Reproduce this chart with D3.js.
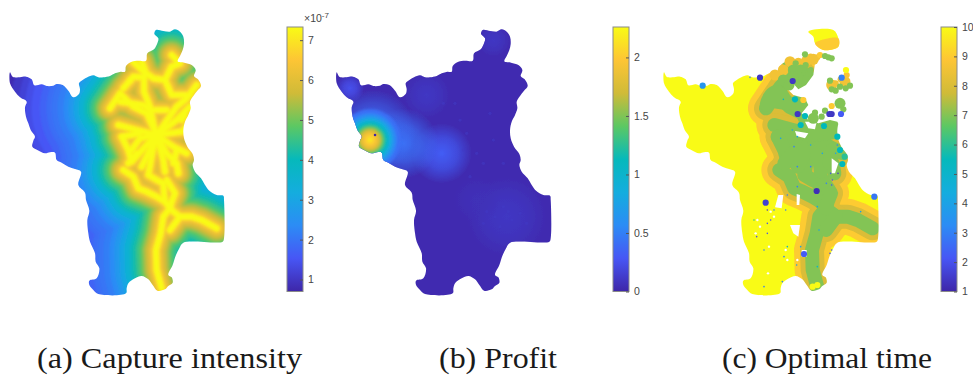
<!DOCTYPE html>
<html>
<head>
<meta charset="utf-8">
<script src="https://cdn.jsdelivr.net/npm/d3@7"></script>
<style>
  html, body { margin: 0; background: #fff; }
  svg { display: block; }
  .cbar text { font-family: "Liberation Sans", Arial, sans-serif; font-size: 10.5px; fill: #454545; }
  .caption { font-family: "Liberation Serif", serif; font-size: 29px; fill: #1a1a1a; }
</style>
</head>
<body>
<script>
// parula colormap stops
const parulaStops = ['#3e26a8', '#4756f5', '#2c8cf5', '#14adde', '#06b9bb', '#5cc863', '#d0bb38', '#fdc535', '#f9fb15'];

// map traced in map units (1 unit = 1/3 pixel)
const outline = [[30,157],[38,170],[60,172],[78,170],[95,178],[103,196],[125,193],[140,198],[160,197],[170,192],[188,195],[205,212],[220,232],[237,222],[240,208],[237,190],[248,180],[262,172],[280,166],[295,172],[310,172],[330,168],[345,160],[362,155],[375,155],[378,138],[395,125],[415,122],[438,122],[442,100],[462,88],[472,70],[475,55],[463,42],[468,30],[490,33],[510,35],[525,28],[540,35],[550,50],[552,72],[548,90],[540,108],[533,124],[553,128],[575,135],[587,150],[582,168],[594,178],[603,198],[592,212],[580,228],[570,245],[572,265],[565,285],[555,305],[550,330],[552,355],[562,380],[578,402],[582,420],[578,435],[585,455],[603,475],[615,495],[628,512],[650,525],[670,527],[672,540],[672,655],[668,665],[550,668],[538,685],[528,705],[518,735],[505,765],[515,772],[518,788],[505,798],[495,808],[472,812],[458,795],[445,778],[425,768],[405,775],[385,790],[380,805],[378,820],[295,822],[280,810],[268,795],[268,782],[290,775],[298,745],[287,725],[285,700],[270,665],[265,640],[262,600],[268,572],[258,540],[255,518],[235,495],[243,455],[225,447],[205,440],[185,428],[170,420],[165,398],[150,397],[135,400],[112,390],[97,380],[100,362],[105,350],[92,330],[85,310],[78,290],[75,262],[80,245],[60,232],[45,215],[30,190]];

const rivers = [
  [[470,345],[460,385],[452,425],[445,465],[470,480],[490,490],[492,520],[495,545],[510,565],[490,590],[482,640],[468,690],[470,750],[485,805]],
  [[495,545],[520,575],[540,590],[575,590],[605,600],[650,625]],
  [[540,590],[510,630]],
  [[370,450],[400,470],[415,505],[440,515],[470,530],[495,545]],
  [[500,480],[525,520],[515,545],[510,565]],
  [[425,125],[435,150],[432,185],[432,215],[450,260],[462,320],[470,345]],
  [[400,125],[425,150],[460,175],[495,180],[515,140],[540,130],[515,105]],
  [[495,180],[515,225],[570,225]],
  [[590,195],[560,235],[530,260],[505,295],[470,345]],
  [[330,265],[360,220],[400,260],[440,280],[470,345]],
  [[360,245],[430,255],[450,270],[500,270]],
  [[370,205],[400,170],[430,172]],
  [[355,315],[410,330],[470,345]],
  [[365,350],[420,340]],
  [[395,390],[420,355],[470,345]],
  [[365,350],[385,390],[395,425],[440,375],[470,345]],
  [[385,430],[410,400]],
  [[470,345],[440,410],[425,440]],
  [[470,345],[500,400],[530,430],[535,460]],
  [[470,345],[490,420],[495,455]],
  [[470,345],[520,380],[560,400]],
  [[530,390],[520,430]],
  [[470,345],[545,335],[560,320]],
  [[470,345],[530,300],[570,260]],
  [[545,300],[555,285]],
  [[390,180],[391,182]]
];

// capture intensity falling away from the river network
const intensityBase = 0.75;
const intensityDist = [330,300,275,255,235,210,190,175,158,140,125,110,95,80,70,60,50,42,36,30,24,18,13,10,7];
const intensityVals = [0.8,1.0,1.2,1.38,1.55,1.75,1.9,2.0,2.15,2.35,2.65,3.0,3.45,3.9,4.2,4.5,4.8,5.15,5.45,5.7,6.0,6.3,6.7,7.05,7.33];

// profit: wide faint plumes (x, y, reach, value), hot core rings and faint mottling
const profitBase = 0.03;
const profitPlumes = [
  [500,60,50,0.1],[300,225,70,0.1],[540,590,120,0.1],[450,540,70,0.06],[70,205,42,0.25],
  [345,400,90,0.32],[230,370,105,0.42],[140,335,125,0.42]
];
const profitCore = [
  [130,360,92,0.42],[130,360,80,0.55],[130,360,71,0.7],[130,360,64,0.85],[130,360,57,1.0],[130,360,51,1.15],
  [130,360,45,1.3],[130,360,40,1.45],[130,360,35,1.6],[130,360,31,1.75],[130,360,26,1.85],[130,360,20,1.95],[130,360,14,2.05],[130,360,7,2.15]
];
const profitSpecks = [[480,575],[505,590],[530,560],[555,600],[580,580],[600,610],[470,610],[520,620],[545,575],[430,470],[400,300],[420,340],[385,250],[450,400],[470,430],[500,360],[530,430],[350,250],[410,390],[490,280]];

// optimal time bands around the network
const timeBase = 10;
const timeDist = [54,36,21];
const timeVals = [9,8,7];

const timeHoles = [
  [[396,192],[416,188],[433,208],[456,195],[478,165],[483,130],[448,125],[423,115],[398,118],[398,-20],[708,-20],[708,330],[563,330],[550,305],[528,300],[493,310],[463,300],[443,280],[463,255],[453,235],[418,225],[403,210]],
  [[453,305],[488,305],[483,328],[463,325]],
  [[423,333],[463,340],[453,355],[428,348]],
  [[533,415],[553,430],[543,460],[533,460]],
  [[373,525],[388,525],[383,565],[363,562]],
  [[428,522],[438,525],[436,555],[428,555]],
  [[408,615],[438,615],[433,650],[418,640]],
  [[443,690],[458,690],[458,710],[443,710]]
];
const timeIsland = [[463,35],[538,30],[553,55],[553,80],[508,90],[483,70],[478,50]];
const timeIslandBand = [[483,70],[503,60],[553,55],[553,80],[508,90]];
const timeGreen = [[333,215],[363,195],[393,205],[408,225],[418,240],[423,265],[398,270],[363,262],[338,275],[318,260]];

// x, y, value of the scattered cells
const bigCells = [[388,150,8.6],[363,165,8.6],[408,125,8.6],[433,130,8.6],[458,122,8.6],[478,118,8.6],[533,195,8.6],[573,185,8.6],[388,180,7],[418,150,7],[418,170,7],[405,195,7],[440,150,7],[558,250,7],[478,295,7]];
const midCells = [[470,110,8.6],[490,112,8.6],[498,105,9],[560,178,8.6],[545,190,8.6],[578,165,8.8],[576,150,10],[533,258,9],[448,240,9],[453,103,7],[523,112,7],[533,115,7],[513,108,7],[433,190,7],[440,165,7],[453,160,7],[463,165,7],[455,175,7],[470,150,7],[455,135,7],[425,130,7],[528,182,7],[558,200,7],[575,205,7],[545,212,7],[588,197,7],[533,208,7],[513,272,7],[568,268,7],[483,278,7],[503,290,7],[453,288,5.5],[440,315,5.5],[423,238,5.5],[533,282,1.4],[526,282,1.4],[561,282,2.2],[431,282,1.4],[416,183,1.4],[318,173,1.4],[563,173,3],[146,197,3.6],[661,530,2.8],[335,548,1.6],[488,513,1.2],[450,702,2.2],[510,318,5.5],[550,350,5.5],[565,432,5.5],[558,390,5.5],[572,410,6],[476,800,10],[490,795,10]];
const smallCells = [[288,172,3],[388,238,5.5],[430,350,4],[470,375,4],[420,380,3],[550,375,3],[545,400,4],[530,460,2],[552,460,1.5],[535,480,2],[533,495,2],[490,560,4],[400,525,3],[340,610,2],[340,640,2],[308,650,2],[395,570,3],[360,570,3],[350,600,2],[400,680,5],[440,680,4],[330,690,3],[390,710,3],[330,800,3],[385,785,3],[428,735,4],[490,740,5],[495,630,4],[620,575,4],[517,490,3],[430,440,3],[470,440,3],[505,400,4],[415,330,4],[380,355,4],[430,500,3],[528,700,2],[533,690,2],[300,600,6],[340,570,1.5]];
const timeSlits = [[310,600],[318,620],[350,575],[305,640],[345,680],[400,720],[430,720],[360,590],[395,690],[342,760]];

// colorbars
const barDomains = [[0.7,7.33],[0,2.26],[1,10]];
const barTicks = [[1,2,3,4,5,6,7],[0,0.5,1,1.5,2],[1,2,3,4,5,6,7,8,9,10]];
const barLeft = [287,613,941];
const mapLeft = [0,326.7,654];
const captions = ['(a) Capture intensity','(b) Profit','(c) Optimal time'];
const captionLeft = [37,439,722];
const captionWidth = [265,118,210];

const W = 973, H = 381;
const svg = d3.select('body').append('svg').attr('width', W).attr('height', H);
const defs = svg.append('defs');

const parula = d3.scaleLinear()
  .domain(parulaStops.map((c, i) => i / (parulaStops.length - 1)))
  .range(parulaStops)
  .clamp(true);

const yMap = d3.scaleLinear().domain([0, 990]).range([20, 350]);

function addBlur(id, s) {
  defs.append('filter').attr('id', id)
    .attr('x', '-5%').attr('y', '-5%').attr('width', '110%').attr('height', '110%')
    .append('feGaussianBlur').attr('stdDeviation', s);
}
addBlur('soft', 1.0);
addBlur('softer', 1.2);
addBlur('edge', 0.5);

function panel(i) {
  const xMap = d3.scaleLinear().domain([0, 990]).range([mapLeft[i], mapLeft[i] + 330]);
  const toPath = d3.line().x(d => xMap(d[0])).y(d => yMap(d[1]));
  const toShape = d3.line().x(d => xMap(d[0])).y(d => yMap(d[1])).curve(d3.curveCatmullRomClosed.alpha(0.5));
  const color = v => parula((v - barDomains[i][0]) / (barDomains[i][1] - barDomains[i][0]));
  const len = d => xMap(d) - xMap(0);
  return { xMap, toPath, toShape, color, len, id: 'clip' + i };
}

function strokeBands(g, p, dist, vals) {
  dist.forEach((d, k) => {
    g.selectAll(null).data(rivers).enter().append('path')
      .attr('d', r => p.toPath(r))
      .attr('fill', 'none')
      .attr('stroke', p.color(vals[k]))
      .attr('stroke-width', 2 * p.len(d))
      .attr('stroke-linecap', 'round')
      .attr('stroke-linejoin', 'round');
  });
}

// (a) capture intensity
{
  const p = panel(0);
  defs.append('clipPath').attr('id', p.id).append('path').attr('d', p.toShape(outline));
  const g = svg.append('g').attr('filter', 'url(#edge)').append('g').attr('clip-path', `url(#${p.id})`);
  const inner = g.append('g').attr('filter', 'url(#soft)');
  inner.append('rect').attr('width', W).attr('height', H).attr('fill', p.color(intensityBase));
  strokeBands(inner, p, intensityDist, intensityVals);
}

// (b) profit
{
  const p = panel(1);
  defs.append('clipPath').attr('id', p.id).append('path').attr('d', p.toShape(outline));
  const g = svg.append('g').attr('filter', 'url(#edge)').append('g').attr('clip-path', `url(#${p.id})`);
  g.append('rect').attr('width', W).attr('height', H).attr('fill', p.color(profitBase));
  profitPlumes.forEach((d, k) => {
    const grad = defs.append('radialGradient').attr('id', 'plume' + k);
    grad.append('stop').attr('offset', 0).attr('stop-color', p.color(d[3])).attr('stop-opacity', 1);
    grad.append('stop').attr('offset', 0.5).attr('stop-color', p.color(d[3])).attr('stop-opacity', 0.65);
    grad.append('stop').attr('offset', 1).attr('stop-color', p.color(d[3])).attr('stop-opacity', 0);
  });
  g.selectAll('.plume').data(profitPlumes).enter().append('circle')
    .attr('class', 'plume')
    .attr('cx', d => p.xMap(d[0]))
    .attr('cy', d => yMap(d[1]))
    .attr('r', d => p.len(d[2]))
    .attr('fill', (d, k) => `url(#plume${k})`);
  g.append('g').selectAll('circle').data(profitSpecks).enter().append('circle')
    .attr('cx', d => p.xMap(d[0]))
    .attr('cy', d => yMap(d[1]))
    .attr('r', 1.6)
    .attr('fill', p.color(0.11))
    .attr('opacity', 0.5);
  g.append('g').attr('filter', 'url(#softer)')
    .selectAll('circle').data(profitCore).enter().append('circle')
    .attr('cx', d => p.xMap(d[0]))
    .attr('cy', d => yMap(d[1]))
    .attr('r', d => p.len(d[2]))
    .attr('fill', d => p.color(d[3]));
  g.append('circle').attr('cx', p.xMap(145)).attr('cy', yMap(345)).attr('r', 1.3).attr('fill', p.color(0));
}

// (c) optimal time
{
  const p = panel(2);
  const mask = defs.append('mask').attr('id', p.id).attr('maskUnits', 'userSpaceOnUse')
    .attr('x', 0).attr('y', 0).attr('width', W).attr('height', H);
  mask.append('path').attr('d', p.toShape(outline)).attr('fill', '#fff');
  mask.selectAll('.hole').data(timeHoles).enter().append('path')
    .attr('class', 'hole')
    .attr('d', d => p.toPath(d) + 'Z')
    .attr('fill', '#000');
  const g = svg.append('g').attr('filter', 'url(#edge)');
  const body = g.append('g').attr('mask', `url(#${p.id})`);
  body.append('rect').attr('width', W).attr('height', H).attr('fill', p.color(timeBase));
  strokeBands(body.append('g').attr('transform', 'translate(2,0)'), p, timeDist, timeVals);
  body.append('path').attr('d', p.toShape(timeGreen)).attr('fill', p.color(7));
  g.append('path').attr('d', p.toShape(timeIsland)).attr('fill', p.color(10));
  g.append('path').attr('d', p.toShape(timeIslandBand)).attr('fill', p.color(9));
  const cells = (data, r) => g.append('g').selectAll('circle').data(data).enter().append('circle')
    .attr('cx', d => p.xMap(d[0]))
    .attr('cy', d => yMap(d[1]))
    .attr('r', r)
    .attr('fill', d => p.color(d[2]));
  cells(bigCells, 5.5);
  cells(midCells, 3.1);
  cells(smallCells, 0.8);
  g.append('g').selectAll('circle').data(timeSlits).enter().append('circle')
    .attr('cx', d => p.xMap(d[0]))
    .attr('cy', d => yMap(d[1]))
    .attr('r', 1.2)
    .attr('fill', '#fff');
}

// colorbars
barDomains.forEach((dom, i) => {
  const y = d3.scaleLinear().domain(dom).range([291.5, 27]);
  const id = 'grad' + i;
  const grad = defs.append('linearGradient').attr('id', id)
    .attr('x1', 0).attr('x2', 0).attr('y1', 1).attr('y2', 0);
  parulaStops.forEach((c, k) => {
    grad.append('stop').attr('offset', k / (parulaStops.length - 1)).attr('stop-color', c);
  });
  const bar = svg.append('g').attr('class', 'cbar');
  bar.append('rect')
    .attr('x', barLeft[i]).attr('y', y.range()[1])
    .attr('width', 16).attr('height', y.range()[0] - y.range()[1])
    .attr('fill', `url(#${id})`)
    .attr('stroke', '#8a8a8a').attr('stroke-width', 1);
  const axis = d3.axisRight(y).tickValues(barTicks[i]).tickFormat(d3.format('~g'))
    .tickSizeInner(-3).tickSizeOuter(0).tickPadding(5);
  const ag = bar.append('g').attr('transform', `translate(${barLeft[i] + 16},0)`).call(axis);
  ag.select('.domain').remove();
  ag.selectAll('.tick line').attr('stroke', '#555');
  ag.selectAll('.tick text').attr('fill', '#454545');
});

const expo = svg.append('g').attr('class', 'cbar').append('text').attr('x', 304).attr('y', 22);
expo.append('tspan').text('×10');
expo.append('tspan').attr('dy', -4).style('font-size', '8px').text('-7');

svg.selectAll('.caption').data(captions).enter().append('text')
  .attr('class', 'caption')
  .attr('x', (d, i) => captionLeft[i])
  .attr('y', 368)
  .attr('textLength', (d, i) => captionWidth[i])
  .attr('lengthAdjust', 'spacingAndGlyphs')
  .text(d => d);
</script>
</body>
</html>
